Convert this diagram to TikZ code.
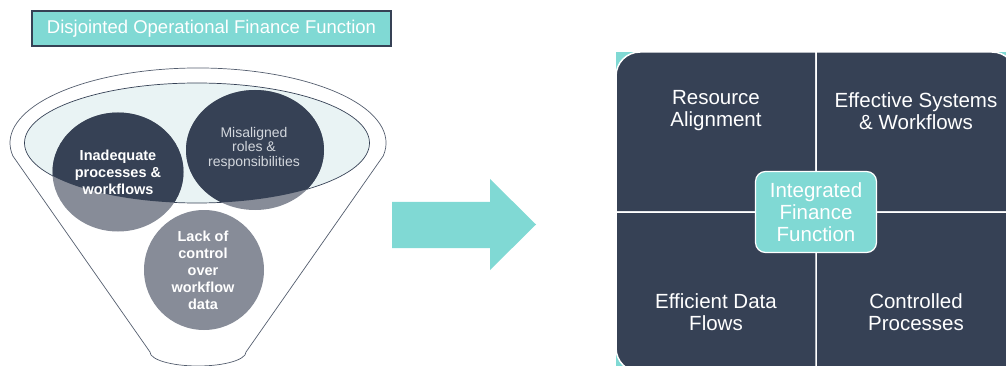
\documentclass[tikz,border=0pt]{standalone}
\usepackage{fontspec}
\setmainfont{Liberation Sans}
\usetikzlibrary{shapes.geometric}

\definecolor{navy}{HTML}{364155}
\definecolor{aqua}{HTML}{80D9D4}
\definecolor{slate}{HTML}{878C98}
\definecolor{mist}{HTML}{E9F3F4}
\definecolor{pale}{HTML}{D3D7DD}

\begin{document}
\begin{tikzpicture}[x=1pt, y=-1pt]
    \tikzset{
        issue/.style={align=center, text=white, inner sep=0pt,
            font=\bfseries\fontsize{14.5}{17}\selectfont},
        cell/.style={align=center, text=white, inner sep=0pt,
            font=\fontsize{20.5}{22}\selectfont},
        quad/.style={fill=navy, draw=white, line width=1.5pt}
    }
    \useasboundingbox (0,0) rectangle (1006,366);

    \node [fill=aqua, draw=navy, line width=2pt, text=white,
        minimum width=359, minimum height=35, inner sep=0pt,
        font=\fontsize{18.5}{22}\selectfont]
        (title) at (211.5,29) {Disjointed Operational Finance Function};

    % funnel
    \draw [navy!85, line width=0.7pt] (150,352) -- (12.9,156)
        arc [start angle=170, end angle=370, x radius=188, y radius=75]
        -- (246,352)
        arc [start angle=0, end angle=180, x radius=48, y radius=14]
        -- cycle;
    \draw [fill=mist, draw=navy, line width=0.7pt]
        (197,143) ellipse [x radius=172.5, y radius=60];

    % bubbles, darker inside the rim
    \foreach \cx/\cy/\rx/\ry in {118/172/65.5/59.5, 255/150/69/60, 204/270/60/60}
        \fill [slate] (\cx,\cy) ellipse [x radius=\rx, y radius=\ry];
    \begin{scope}
        \clip (197,143) ellipse [x radius=172.5, y radius=60];
        \foreach \cx/\cy/\rx/\ry in {118/172/65.5/59.5, 255/150/69/60, 204/270/60/60}
            \fill [navy] (\cx,\cy) ellipse [x radius=\rx, y radius=\ry];
    \end{scope}
    \node [issue] (inadequate) at (118,172) {Inadequate\\processes \&\\workflows};
    \node [issue, text=pale, font=\fontsize{14}{14.5}\selectfont]
        (misaligned) at (254,148) {Misaligned\\roles \&\\responsibilities};
    \node [issue] (lack) at (203,270) {Lack of\\control\\over\\workflow\\data};

    % big arrow
    \fill [aqua] (392,202) -- (490,202) -- (490,179) -- (536,224.5)
        -- (490,270) -- (490,248) -- (392,248) -- cycle;

    % matrix
    \begin{scope}
        \clip (0,0) rectangle (1006,366);
        \fill [aqua] (616,52) rectangle (1016,372);
        \draw [quad] (816,212) -- (616,212) -- (616,76)
            arc [start angle=180, end angle=270, radius=24] -- (816,52) -- cycle;
        \draw [quad] (816,52) -- (992,52)
            arc [start angle=270, end angle=360, radius=24] -- (1016,212) -- (816,212) -- cycle;
        \draw [quad] (1016,212) -- (1016,348)
            arc [start angle=0, end angle=90, radius=24] -- (816,372) -- (816,212) -- cycle;
        \draw [quad] (816,372) -- (640,372)
            arc [start angle=90, end angle=180, radius=24] -- (616,212) -- (816,212) -- cycle;
    \end{scope}
    \node [cell] (resource) at (716,111) {Resource\\Alignment};
    \node [cell] (systems) at (916,111) {Effective Systems\\\& Workflows};
    \node [cell] (dataflows) at (716,312) {Efficient Data\\Flows};
    \node [cell] (controlled) at (916,312) {Controlled\\Processes};
    \node [cell, fill=aqua, draw=white, line width=1.2pt, rounded corners=10pt,
        minimum width=121, minimum height=81]
        (hub) at (816,212) {Integrated\\Finance\\Function};
\end{tikzpicture}
\end{document}
